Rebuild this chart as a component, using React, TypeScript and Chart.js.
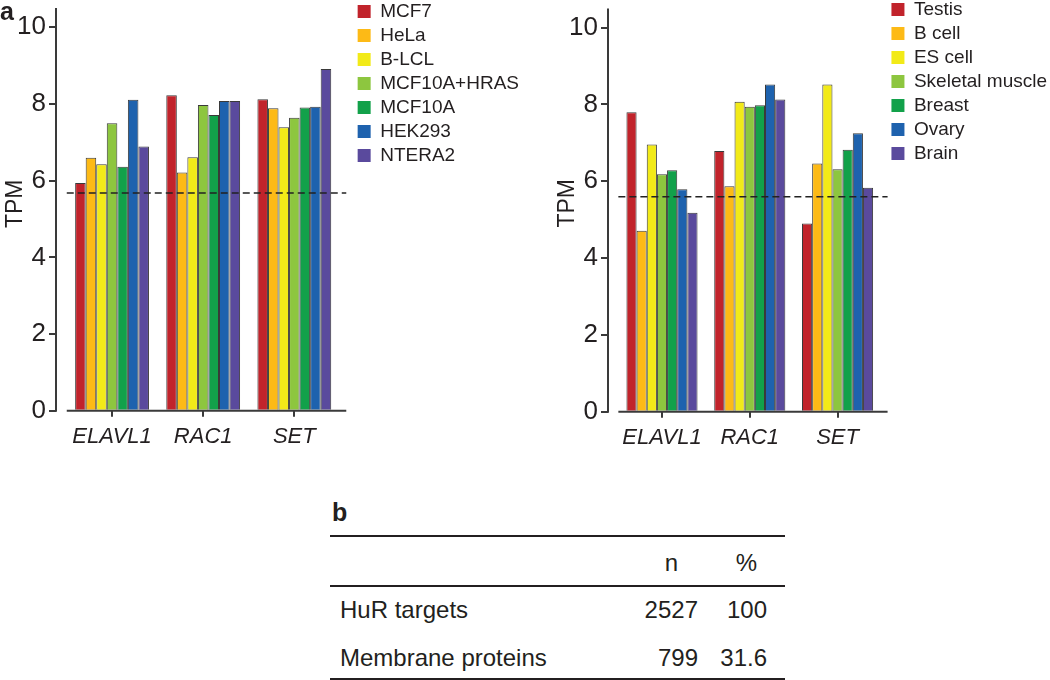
import React, { useEffect, useRef } from 'react';
import { Chart, registerables } from 'chart.js';

Chart.register(...registerables);

// ---------- data ----------
const GENES = ['ELAVL1', 'RAC1', 'SET'];

const CELL_LINES = ['MCF7', 'HeLa', 'B-LCL', 'MCF10A+HRAS', 'MCF10A', 'HEK293', 'NTERA2'];
const MCF7 = [5.94, 8.23, 8.12];
const HELA = [6.6, 6.21, 7.89];
const BLCL = [6.43, 6.61, 7.39];
const MCF10A_HRAS = [7.5, 7.97, 7.64];
const MCF10A = [6.36, 7.71, 7.91];
const HEK293 = [8.11, 8.08, 7.93];
const NTERA2 = [6.89, 8.08, 8.91];
const CELL_THRESHOLD = 5.68;

const TISSUES = ['Testis', 'B cell', 'ES cell', 'Skeletal muscle', 'Breast', 'Ovary', 'Brain'];
const TESTIS = [7.8, 6.79, 4.9];
const B_CELL = [4.71, 5.87, 6.46];
const ES_CELL = [6.96, 8.07, 8.52];
const SKELETAL_MUSCLE = [6.18, 7.94, 6.31];
const BREAST = [6.29, 7.98, 6.82];
const OVARY = [5.79, 8.52, 7.25];
const BRAIN = [5.18, 8.13, 5.83];
const TISSUE_THRESHOLD = 5.6;

const Y_TICK_STEP = 2;

const TABLE_HEADERS = ['n', '%'];
const TABLE_ROWS = ['HuR targets', 'Membrane proteins'];
const TABLE_N = ['2527', '799'];
const TABLE_PCT = ['100', '31.6'];

// ---------- style ----------
const COLORS = ['#C1232B', '#FDBA16', '#F2EA18', '#8DC63F', '#12A14A', '#1E62AE', '#5A4A9D'];
const BAR_BORDER = '#3a3a3a';
const AXIS = '#3a3a3a';
const TEXT = '#231f20';
const FONT = "'Liberation Sans', Arial, Helvetica, sans-serif";

// axis extents in data units (layout)
const X_MIN = -0.615;
const X_AXIS_START = -0.497;
const X_AXIS_END = 2.57;
const Y_AXIS_TOP = 10.5;

const refLinesPlugin = {
  id: 'refLines',
  afterDatasetsDraw(chart: any, _args: any, opts: any) {
    const { ctx, scales } = chart;
    const x = scales.x;
    const y = scales.y;
    const y0 = y.getPixelForValue(0);
    const xs = x.getPixelForValue(opts.axisStart);
    const xe = x.getPixelForValue(opts.axisEnd);
    ctx.save();
    // dashed threshold
    ctx.strokeStyle = '#222';
    ctx.lineWidth = 1.5;
    ctx.setLineDash([7, 4]);
    const yt = y.getPixelForValue(opts.threshold);
    ctx.beginPath();
    ctx.moveTo(xs, yt);
    ctx.lineTo(xe, yt);
    ctx.stroke();
    ctx.setLineDash([]);
    // axis lines
    ctx.strokeStyle = AXIS;
    ctx.lineWidth = 2;
    const xl = chart.chartArea.left;
    ctx.beginPath();
    ctx.moveTo(xl, y0 + 1);
    ctx.lineTo(xl, y.getPixelForValue(opts.yTop));
    ctx.stroke();
    ctx.beginPath();
    ctx.moveTo(xs, y0);
    ctx.lineTo(xe, y0);
    ctx.stroke();
    ctx.restore();
  },
};

type PanelProps = {
  names: string[];
  series: number[][];
  threshold: number;
  left: number;
  top: number;
  width: number;
  height: number;
  bottom: number;
  yMax: number;
  xMax: number;
};

function BarPanel(p: PanelProps) {
  const ref = useRef<HTMLCanvasElement>(null);
  useEffect(() => {
    const chart = new Chart(ref.current as HTMLCanvasElement, {
      type: 'bar',
      data: {
        datasets: p.names.map((n, i) => ({
          label: n,
          data: GENES.map((_g, j) => ({ x: j, y: p.series[i][j] })),
          backgroundColor: COLORS[i],
          borderColor: BAR_BORDER,
          borderWidth: 1,
          categoryPercentage: 0.81,
          barPercentage: 1,
        })),
      } as any,
      options: {
        responsive: false,
        animation: false,
        devicePixelRatio: 1,
        layout: { padding: 0 },
        plugins: {
          legend: {
            position: 'right',
            align: 'start',
            maxWidth: 300,
            labels: {
              boxWidth: 13,
              boxHeight: 13,
              padding: 5,
              color: TEXT,
              font: { family: FONT, size: 19 },
              generateLabels: (c: any) =>
                (Chart.defaults.plugins.legend.labels.generateLabels as any)(c).map((l: any) => ({
                  ...l,
                  lineWidth: 0,
                  strokeStyle: 'rgba(0,0,0,0)',
                })),
            },
          },
          tooltip: { enabled: false },
          refLines: {
            threshold: p.threshold,
            axisStart: X_AXIS_START,
            axisEnd: X_AXIS_END,
            yTop: Y_AXIS_TOP,
          },
        } as any,
        scales: {
          x: {
            type: 'linear',
            offset: false,
            min: X_MIN,
            max: p.xMax,
            border: { display: false },
            grid: { offset: false, drawOnChartArea: false, drawTicks: true, tickLength: 6, color: AXIS, lineWidth: 2 },
            ticks: {
              stepSize: 1,
              includeBounds: false,
              autoSkip: false,
              maxRotation: 0,
              padding: 7,
              color: TEXT,
              font: { family: FONT, size: 22, style: 'italic' },
              callback: (v: any) => (GENES[v] !== undefined ? GENES[v] : ''),
            },
            afterFit: (s: any) => {
              s.height = p.height - p.bottom;
              s.paddingLeft = 0;
              s.paddingRight = 0;
            },
          },
          y: {
            type: 'linear',
            min: 0,
            max: p.yMax,
            border: { display: false },
            grid: { drawOnChartArea: false, drawTicks: true, tickLength: 7, color: AXIS, lineWidth: 2 },
            ticks: {
              stepSize: Y_TICK_STEP,
              includeBounds: false,
              padding: 3,
              color: TEXT,
              font: { family: FONT, size: 26 },
            },
            title: {
              display: true,
              text: 'TPM',
              color: TEXT,
              font: { family: FONT, size: 23 },
              padding: { top: 2, bottom: 0 },
            },
            afterFit: (s: any) => {
              s.width = 56;
              s.paddingTop = 0;
              s.paddingBottom = 0;
            },
          },
        } as any,
      },
      plugins: [refLinesPlugin as any],
    });
    return () => chart.destroy();
  }, []);
  return (
    <canvas
      ref={ref}
      width={p.width}
      height={p.height}
      style={{ position: 'absolute', left: p.left, top: p.top, width: p.width, height: p.height }}
    />
  );
}

const abs = (extra: React.CSSProperties): React.CSSProperties => ({
  position: 'absolute',
  whiteSpace: 'nowrap',
  ...extra,
});

export default function App() {
  return (
    <div
      style={{
        position: 'absolute',
        left: 0,
        top: 0,
        width: 1050,
        height: 680,
        overflow: 'hidden',
        background: '#fff',
        fontFamily: FONT,
        color: TEXT,
      }}
    >
      <BarPanel
        names={CELL_LINES}
        series={[MCF7, HELA, BLCL, MCF10A_HRAS, MCF10A, HEK293, NTERA2]}
        threshold={CELL_THRESHOLD}
        left={0}
        top={-3}
        width={529}
        height={470}
        bottom={413.7}
        yMax={10.79}
        xMax={2.64}
      />
      <BarPanel
        names={TISSUES}
        series={[TESTIS, B_CELL, ES_CELL, SKELETAL_MUSCLE, BREAST, OVARY, BRAIN]}
        threshold={TISSUE_THRESHOLD}
        left={552}
        top={-5}
        width={505}
        height={470}
        bottom={416.7}
        yMax={10.85}
        xMax={2.557}
      />
      <div style={abs({ left: 0, top: -1, fontSize: 25, lineHeight: '25px', fontWeight: 'bold' })}>a</div>
      <div style={abs({ left: 332, top: 500, fontSize: 25, lineHeight: '25px', fontWeight: 'bold' })}>b</div>

      <div style={abs({ left: 330, top: 535, width: 455, height: 2, background: TEXT })} />
      <div style={abs({ left: 330, top: 585, width: 455, height: 2, background: TEXT })} />
      <div style={abs({ left: 330, top: 678, width: 455, height: 2, background: TEXT })} />

      <div style={abs({ left: 598, top: 551, width: 80, textAlign: 'right', fontSize: 24, lineHeight: '24px' })}>
        {TABLE_HEADERS[0]}
      </div>
      <div style={abs({ left: 687, top: 551, width: 70, textAlign: 'right', fontSize: 24, lineHeight: '24px' })}>
        {TABLE_HEADERS[1]}
      </div>
      {TABLE_ROWS.map((r, i) => (
        <React.Fragment key={r}>
          <div style={abs({ left: 340, top: 598 + i * 47.5, fontSize: 24, lineHeight: '24px' })}>{r}</div>
          <div
            style={abs({ left: 598, top: 598 + i * 47.5, width: 100, textAlign: 'right', fontSize: 24, lineHeight: '24px' })}
          >
            {TABLE_N[i]}
          </div>
          <div
            style={abs({ left: 667, top: 598 + i * 47.5, width: 100, textAlign: 'right', fontSize: 24, lineHeight: '24px' })}
          >
            {TABLE_PCT[i]}
          </div>
        </React.Fragment>
      ))}
    </div>
  );
}
